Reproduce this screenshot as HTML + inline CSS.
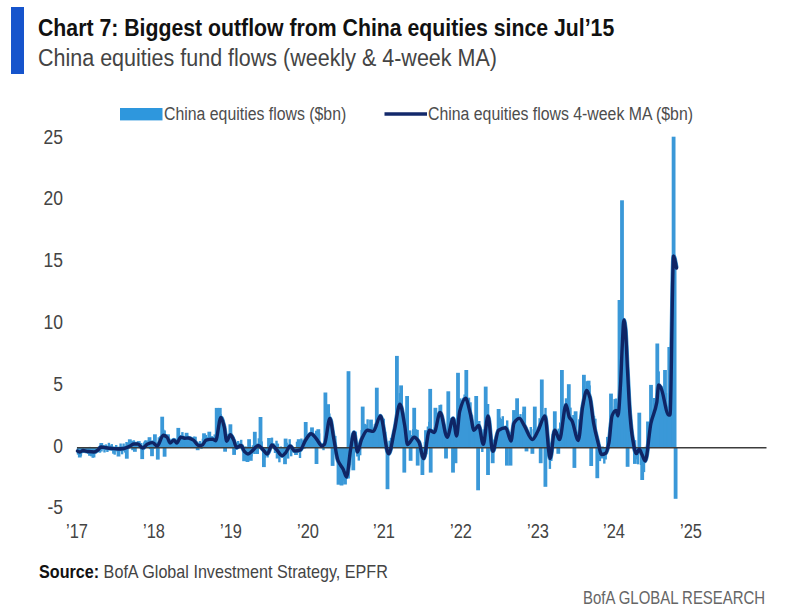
<!DOCTYPE html>
<html><head><meta charset="utf-8">
<style>
html,body{margin:0;padding:0;background:#fff;}
body{width:800px;height:615px;position:relative;overflow:hidden;font-family:"Liberation Sans",sans-serif;}
.t{position:absolute;white-space:nowrap;transform-origin:0 0;line-height:1;}
#bar{position:absolute;left:11px;top:6.6px;width:13.2px;height:67.4px;background:#1654cc;}
#title{left:38px;top:16.8px;font-size:23px;font-weight:bold;color:#111;transform:scaleX(0.924);}
#sub{left:38px;top:47px;font-size:23px;color:#444;transform:scaleX(0.935);}
.lg{font-size:18px;color:#4d4d4d;transform:scaleX(0.88);}
.yl{font-size:20px;color:#444;text-align:right;width:40px;transform:scaleX(0.875);transform-origin:100% 0;}
.xl{font-size:20px;color:#444;transform:scaleX(0.82);}
</style></head><body>
<div id="bar"></div>
<div class="t" id="title">Chart 7: Biggest outflow from China equities since Jul’15</div>
<div class="t" id="sub">China equities fund flows (weekly &amp; 4-week MA)</div>
<svg width="800" height="615" style="position:absolute;left:0;top:0">
<rect x="120" y="108" width="42.5" height="12.4" fill="#2e97dd"/>
<line x1="384.5" y1="114" x2="427" y2="114" stroke="#13296b" stroke-width="3.5"/>
<g id="bars" fill="#3a98d8"><path d="M77.5,447.5 L77.50,451.00 C78.33,451.33 79.17,452.00 80.00,452.00 C81.00,452.00 82.00,450.50 83.00,450.50 C84.67,450.50 86.33,451.30 88.00,451.50 C90.00,451.74 92.00,452.00 94.00,452.00 C95.33,452.00 96.67,450.90 98.00,450.00 C99.00,449.32 100.00,447.00 101.00,447.00 C102.67,447.00 104.33,447.57 106.00,447.80 C108.00,448.07 110.00,448.31 112.00,448.50 C114.00,448.69 116.00,449.00 118.00,449.00 C120.00,449.00 122.00,448.78 124.00,448.50 C126.00,448.22 128.00,446.93 130.00,446.00 C131.30,445.40 132.60,444.00 133.90,444.00 C135.20,444.00 136.50,444.00 137.80,444.00 C139.43,444.00 141.07,448.00 142.70,448.00 C144.33,448.00 145.97,444.70 147.60,444.00 C149.20,443.31 150.80,442.60 152.40,442.60 C154.03,442.60 155.67,446.00 157.30,446.00 C159.27,446.00 161.23,435.20 163.20,435.20 C164.50,435.20 165.80,436.11 167.10,437.20 C168.07,438.01 169.03,443.00 170.00,443.00 C171.30,443.00 172.60,440.10 173.90,440.10 C174.87,440.10 175.83,443.00 176.80,443.00 C178.10,443.00 179.40,437.20 180.70,437.20 C182.00,437.20 183.30,438.20 184.60,438.20 C185.80,438.20 187.00,438.00 188.20,438.00 C189.93,438.00 191.67,439.10 193.40,440.10 C195.17,441.12 196.93,445.40 198.70,445.40 C199.77,445.40 200.83,445.40 201.90,445.40 C203.30,445.40 204.70,440.51 206.10,440.10 C208.23,439.47 210.37,439.10 212.50,439.10 C213.53,439.10 214.57,440.70 215.60,440.70 C217.37,440.70 219.13,417.40 220.90,417.40 C221.97,417.40 223.03,422.34 224.10,426.40 C224.97,429.70 225.83,441.20 226.70,441.20 C227.93,441.20 229.17,434.80 230.40,434.80 C231.47,434.80 232.53,438.01 233.60,440.10 C234.63,442.12 235.67,447.50 236.70,447.50 C238.13,447.50 239.57,445.40 241.00,445.40 C242.17,445.40 243.33,450.32 244.50,451.50 C245.67,452.68 246.83,454.00 248.00,454.00 C249.50,454.00 251.00,451.84 252.50,450.60 C254.40,449.04 256.30,445.40 258.20,445.40 C259.73,445.40 261.27,447.96 262.80,449.40 C264.30,450.81 265.80,454.00 267.30,454.00 C268.83,454.00 270.37,444.90 271.90,444.90 C273.40,444.90 274.90,447.83 276.40,449.40 C278.30,451.39 280.20,455.70 282.10,455.70 C283.27,455.70 284.43,454.03 285.60,452.80 C287.10,451.21 288.60,446.00 290.10,446.00 C291.63,446.00 293.17,451.00 294.70,451.00 C296.60,451.00 298.50,450.53 300.40,449.80 C302.17,449.12 303.93,442.41 305.70,439.90 C307.50,437.34 309.30,433.70 311.10,433.70 C312.90,433.70 314.70,437.01 316.50,439.00 C318.33,441.03 320.17,446.00 322.00,446.00 C322.83,446.00 323.67,445.26 324.50,444.40 C326.30,442.54 328.10,418.50 329.90,418.50 C331.10,418.50 332.30,430.98 333.50,437.20 C335.00,444.98 336.50,456.64 338.00,460.50 C339.77,465.04 341.53,465.87 343.30,469.40 C344.37,471.53 345.43,477.00 346.50,477.00 C347.83,477.00 349.17,457.63 350.50,450.00 C351.67,443.32 352.83,432.50 354.00,432.50 C355.17,432.50 356.33,452.00 357.50,452.00 C358.83,452.00 360.17,442.47 361.50,439.60 C363.47,435.37 365.43,430.20 367.40,430.20 C369.37,430.20 371.33,431.40 373.30,431.40 C375.67,431.40 378.03,416.00 380.40,416.00 C383.13,416.00 385.87,453.80 388.60,453.80 C390.57,453.80 392.53,438.81 394.50,430.20 C396.30,422.32 398.10,404.20 399.90,404.20 C401.50,404.20 403.10,416.75 404.70,425.50 C405.63,430.60 406.57,444.50 407.50,444.50 C409.73,444.50 411.97,437.30 414.20,437.30 C415.77,437.30 417.33,439.56 418.90,442.00 C420.47,444.44 422.03,458.50 423.60,458.50 C425.57,458.50 427.53,430.20 429.50,430.20 C431.07,430.20 432.63,432.50 434.20,432.50 C436.17,432.50 438.13,412.50 440.10,412.50 C442.47,412.50 444.83,437.30 447.20,437.30 C449.17,437.30 451.13,418.40 453.10,418.40 C454.27,418.40 455.43,436.00 456.60,436.00 C457.63,436.00 458.67,415.09 459.70,411.30 C461.67,404.09 463.63,398.30 465.60,398.30 C467.17,398.30 468.73,407.67 470.30,413.70 C471.50,418.32 472.70,430.20 473.90,430.20 C475.47,430.20 477.03,425.50 478.60,425.50 C480.17,425.50 481.73,444.30 483.30,444.30 C484.87,444.30 486.43,416.00 488.00,416.00 C489.57,416.00 491.13,451.40 492.70,451.40 C494.67,451.40 496.63,431.45 498.60,430.20 C500.97,428.70 503.33,427.80 505.70,427.80 C507.47,427.80 509.23,441.00 511.00,441.00 C512.00,441.00 513.00,424.74 514.00,423.10 C515.80,420.16 517.60,418.40 519.40,418.40 C521.00,418.40 522.60,422.97 524.20,425.50 C526.93,429.82 529.67,439.60 532.40,439.60 C534.37,439.60 536.33,433.79 538.30,430.20 C540.50,426.18 542.70,416.00 544.90,416.00 C546.63,416.00 548.37,458.50 550.10,458.50 C551.67,458.50 553.23,430.20 554.80,430.20 C556.37,430.20 557.93,439.60 559.50,439.60 C561.70,439.60 563.90,404.70 566.10,404.70 C567.17,404.70 568.23,415.11 569.30,417.20 C570.20,418.96 571.10,419.20 572.00,420.80 C574.10,424.53 576.20,440.50 578.30,440.50 C579.77,440.50 581.23,414.11 582.70,406.50 C584.07,399.41 585.43,390.40 586.80,390.40 C587.83,390.40 588.87,394.05 589.90,397.60 C591.10,401.73 592.30,416.08 593.50,422.60 C594.93,430.39 596.37,436.17 597.80,441.60 C599.10,446.53 600.40,454.60 601.70,454.60 C603.00,454.60 604.30,454.10 605.60,453.30 C606.70,452.62 607.80,448.04 608.90,443.00 C609.97,438.11 611.03,418.12 612.10,415.60 C613.40,412.53 614.70,410.40 616.00,410.40 C616.67,410.40 617.33,416.00 618.00,416.00 C618.83,416.00 619.67,398.47 620.50,385.00 C621.10,375.30 621.70,356.38 622.30,345.00 C622.80,335.52 623.30,320.00 623.80,320.00 C624.30,320.00 624.80,323.97 625.30,328.00 C626.03,333.90 626.77,356.40 627.50,370.00 C628.33,385.45 629.17,404.85 630.00,415.00 C630.83,425.15 631.67,433.14 632.50,438.00 C633.77,445.39 635.03,453.60 636.30,453.60 C637.30,453.60 638.30,449.30 639.30,449.30 C640.27,449.30 641.23,453.15 642.20,455.10 C643.17,457.05 644.13,461.00 645.10,461.00 C647.07,461.00 649.03,431.88 651.00,422.90 C652.93,414.07 654.87,413.30 656.80,402.40 C657.40,399.02 658.00,385.00 658.60,385.00 C659.40,385.00 660.20,386.63 661.00,388.00 C663.53,392.33 666.07,415.00 668.60,415.00 C669.07,415.00 669.53,415.00 670.00,415.00 C671.20,415.00 672.40,256.00 673.60,256.00 C674.57,256.00 675.53,264.00 676.50,268.00 L676.5,447.5 Z"/><rect x="76.8" y="447.5" width="2.4" height="7.1"/><rect x="78.3" y="447.5" width="2.4" height="9.1"/><rect x="79.7" y="447.5" width="2.4" height="8.4"/><rect x="81.2" y="447.5" width="2.4" height="1.9"/><rect x="82.7" y="447.5" width="2.4" height="4.3"/><rect x="84.1" y="447.5" width="2.4" height="5.1"/><rect x="85.6" y="447.4" width="2.4" height="0.1"/><rect x="87.1" y="447.5" width="2.4" height="6.1"/><rect x="88.6" y="446.9" width="2.4" height="0.6"/><rect x="90.0" y="447.5" width="2.4" height="8.8"/><rect x="91.5" y="447.5" width="2.4" height="10.3"/><rect x="93.0" y="447.5" width="2.4" height="10.0"/><rect x="94.4" y="447.5" width="2.4" height="6.0"/><rect x="95.9" y="447.1" width="2.4" height="0.4"/><rect x="97.4" y="446.9" width="2.4" height="0.6"/><rect x="98.8" y="447.5" width="2.4" height="5.2"/><rect x="100.3" y="447.5" width="2.4" height="4.0"/><rect x="101.8" y="447.5" width="2.4" height="1.3"/><rect x="103.3" y="447.5" width="2.4" height="5.0"/><rect x="104.7" y="444.4" width="2.4" height="3.1"/><rect x="106.2" y="447.5" width="2.4" height="4.5"/><rect x="107.7" y="442.8" width="2.4" height="4.7"/><rect x="109.1" y="445.3" width="2.4" height="2.2"/><rect x="110.6" y="444.1" width="2.4" height="3.4"/><rect x="112.1" y="447.5" width="2.4" height="6.2"/><rect x="113.5" y="447.5" width="2.4" height="7.2"/><rect x="115.0" y="445.0" width="2.4" height="2.5"/><rect x="116.5" y="447.5" width="2.4" height="3.8"/><rect x="118.0" y="447.5" width="2.4" height="0.2"/><rect x="119.4" y="443.5" width="2.4" height="4.0"/><rect x="120.9" y="447.5" width="2.4" height="6.8"/><rect x="122.4" y="443.5" width="2.4" height="4.0"/><rect x="123.8" y="447.5" width="2.4" height="5.1"/><rect x="125.3" y="442.0" width="2.4" height="5.5"/><rect x="126.8" y="442.7" width="2.4" height="4.8"/><rect x="128.2" y="444.8" width="2.4" height="2.7"/><rect x="129.7" y="440.7" width="2.4" height="6.8"/><rect x="131.2" y="447.5" width="2.4" height="2.7"/><rect x="132.7" y="440.3" width="2.4" height="7.2"/><rect x="134.1" y="444.9" width="2.4" height="2.6"/><rect x="135.6" y="446.5" width="2.4" height="1.0"/><rect x="137.1" y="442.9" width="2.4" height="4.6"/><rect x="138.5" y="447.5" width="2.4" height="0.2"/><rect x="140.0" y="443.0" width="2.4" height="4.5"/><rect x="141.5" y="447.5" width="2.4" height="2.2"/><rect x="142.9" y="442.4" width="2.4" height="5.1"/><rect x="144.4" y="440.2" width="2.4" height="7.3"/><rect x="145.9" y="447.5" width="2.4" height="0.1"/><rect x="147.4" y="440.1" width="2.4" height="7.4"/><rect x="148.8" y="447.5" width="2.4" height="1.7"/><rect x="150.3" y="445.4" width="2.4" height="2.1"/><rect x="151.8" y="445.9" width="2.4" height="1.6"/><rect x="153.2" y="447.5" width="2.4" height="1.1"/><rect x="154.7" y="445.4" width="2.4" height="2.1"/><rect x="156.2" y="442.2" width="2.4" height="5.3"/><rect x="157.6" y="437.3" width="2.4" height="10.2"/><rect x="159.1" y="436.2" width="2.4" height="11.3"/><rect x="160.6" y="442.7" width="2.4" height="4.8"/><rect x="162.1" y="429.5" width="2.4" height="18.0"/><rect x="163.5" y="430.4" width="2.4" height="17.1"/><rect x="165.0" y="440.5" width="2.4" height="7.0"/><rect x="166.5" y="436.4" width="2.4" height="11.1"/><rect x="167.9" y="442.8" width="2.4" height="4.7"/><rect x="169.4" y="445.3" width="2.4" height="2.2"/><rect x="170.9" y="445.0" width="2.4" height="2.5"/><rect x="172.3" y="440.5" width="2.4" height="7.0"/><rect x="173.8" y="443.1" width="2.4" height="4.4"/><rect x="175.3" y="441.7" width="2.4" height="5.8"/><rect x="176.8" y="446.0" width="2.4" height="1.5"/><rect x="178.2" y="442.1" width="2.4" height="5.4"/><rect x="179.7" y="440.9" width="2.4" height="6.6"/><rect x="181.2" y="432.1" width="2.4" height="15.4"/><rect x="182.6" y="442.1" width="2.4" height="5.4"/><rect x="184.1" y="439.9" width="2.4" height="7.6"/><rect x="185.6" y="441.6" width="2.4" height="5.9"/><rect x="187.0" y="443.5" width="2.4" height="4.0"/><rect x="188.5" y="437.7" width="2.4" height="9.8"/><rect x="190.0" y="443.6" width="2.4" height="3.9"/><rect x="191.5" y="444.2" width="2.4" height="3.3"/><rect x="192.9" y="436.5" width="2.4" height="11.0"/><rect x="194.4" y="436.7" width="2.4" height="10.8"/><rect x="195.9" y="446.8" width="2.4" height="0.7"/><rect x="197.3" y="442.8" width="2.4" height="4.7"/><rect x="198.8" y="441.0" width="2.4" height="6.5"/><rect x="200.3" y="447.5" width="2.4" height="1.3"/><rect x="201.7" y="438.7" width="2.4" height="8.8"/><rect x="203.2" y="436.7" width="2.4" height="10.8"/><rect x="204.7" y="434.9" width="2.4" height="12.6"/><rect x="206.2" y="437.0" width="2.4" height="10.5"/><rect x="207.6" y="443.3" width="2.4" height="4.2"/><rect x="209.1" y="440.4" width="2.4" height="7.1"/><rect x="210.6" y="436.2" width="2.4" height="11.3"/><rect x="212.0" y="445.4" width="2.4" height="2.1"/><rect x="213.5" y="434.4" width="2.4" height="13.1"/><rect x="215.0" y="444.0" width="2.4" height="3.5"/><rect x="216.4" y="434.5" width="2.4" height="13.0"/><rect x="217.9" y="427.9" width="2.4" height="19.6"/><rect x="219.4" y="414.0" width="2.4" height="33.5"/><rect x="220.9" y="426.2" width="2.4" height="21.3"/><rect x="222.3" y="419.9" width="2.4" height="27.6"/><rect x="223.8" y="429.8" width="2.4" height="17.7"/><rect x="225.3" y="434.2" width="2.4" height="13.3"/><rect x="226.7" y="444.3" width="2.4" height="3.2"/><rect x="228.2" y="434.0" width="2.4" height="13.5"/><rect x="229.7" y="432.1" width="2.4" height="15.4"/><rect x="231.1" y="443.9" width="2.4" height="3.6"/><rect x="232.6" y="436.8" width="2.4" height="10.7"/><rect x="234.1" y="447.5" width="2.4" height="1.7"/><rect x="235.6" y="447.5" width="2.4" height="2.1"/><rect x="237.0" y="441.0" width="2.4" height="6.5"/><rect x="238.5" y="443.7" width="2.4" height="3.8"/><rect x="240.0" y="439.8" width="2.4" height="7.7"/><rect x="241.4" y="444.7" width="2.4" height="2.8"/><rect x="242.9" y="447.5" width="2.4" height="5.5"/><rect x="244.4" y="446.4" width="2.4" height="1.1"/><rect x="245.8" y="447.5" width="2.4" height="1.5"/><rect x="247.3" y="447.5" width="2.4" height="2.2"/><rect x="248.8" y="447.5" width="2.4" height="10.5"/><rect x="250.3" y="447.5" width="2.4" height="8.9"/><rect x="251.7" y="445.3" width="2.4" height="2.2"/><rect x="253.2" y="447.5" width="2.4" height="6.5"/><rect x="254.7" y="443.9" width="2.4" height="3.6"/><rect x="256.1" y="447.5" width="2.4" height="4.6"/><rect x="257.6" y="438.3" width="2.4" height="9.2"/><rect x="259.1" y="440.7" width="2.4" height="6.8"/><rect x="260.5" y="441.4" width="2.4" height="6.1"/><rect x="262.0" y="447.5" width="2.4" height="9.6"/><rect x="263.5" y="447.5" width="2.4" height="10.5"/><rect x="265.0" y="447.5" width="2.4" height="4.7"/><rect x="266.4" y="447.5" width="2.4" height="10.0"/><rect x="267.9" y="441.9" width="2.4" height="5.6"/><rect x="269.4" y="441.8" width="2.4" height="5.7"/><rect x="270.8" y="437.6" width="2.4" height="9.9"/><rect x="272.3" y="443.3" width="2.4" height="4.2"/><rect x="273.8" y="447.5" width="2.4" height="5.5"/><rect x="275.3" y="440.7" width="2.4" height="6.8"/><rect x="276.7" y="443.6" width="2.4" height="3.9"/><rect x="278.2" y="447.5" width="2.4" height="14.8"/><rect x="279.7" y="446.5" width="2.4" height="1.0"/><rect x="281.1" y="447.5" width="2.4" height="0.9"/><rect x="282.6" y="447.5" width="2.4" height="0.1"/><rect x="284.1" y="446.2" width="2.4" height="1.3"/><rect x="285.5" y="442.7" width="2.4" height="4.8"/><rect x="287.0" y="447.5" width="2.4" height="11.1"/><rect x="288.5" y="439.2" width="2.4" height="8.3"/><rect x="290.0" y="447.5" width="2.4" height="8.8"/><rect x="291.4" y="447.5" width="2.4" height="4.7"/><rect x="292.9" y="447.5" width="2.4" height="5.5"/><rect x="294.4" y="447.5" width="2.4" height="0.6"/><rect x="295.8" y="441.7" width="2.4" height="5.8"/><rect x="297.3" y="446.3" width="2.4" height="1.2"/><rect x="298.8" y="447.5" width="2.4" height="10.5"/><rect x="300.2" y="438.5" width="2.4" height="9.0"/><rect x="301.7" y="440.4" width="2.4" height="7.1"/><rect x="303.2" y="447.5" width="2.4" height="1.2"/><rect x="304.7" y="429.8" width="2.4" height="17.7"/><rect x="306.1" y="442.1" width="2.4" height="5.4"/><rect x="307.6" y="443.5" width="2.4" height="4.0"/><rect x="309.1" y="439.1" width="2.4" height="8.4"/><rect x="310.5" y="442.8" width="2.4" height="4.7"/><rect x="312.0" y="443.2" width="2.4" height="4.3"/><rect x="313.5" y="438.5" width="2.4" height="9.0"/><rect x="314.9" y="430.7" width="2.4" height="16.8"/><rect x="316.4" y="437.9" width="2.4" height="9.6"/><rect x="317.9" y="433.4" width="2.4" height="14.1"/><rect x="319.4" y="447.4" width="2.4" height="0.1"/><rect x="320.8" y="444.0" width="2.4" height="3.5"/><rect x="322.3" y="447.5" width="2.4" height="2.7"/><rect x="323.8" y="435.7" width="2.4" height="11.8"/><rect x="325.2" y="444.2" width="2.4" height="3.3"/><rect x="326.7" y="424.2" width="2.4" height="23.3"/><rect x="328.2" y="413.5" width="2.4" height="34.0"/><rect x="329.6" y="427.3" width="2.4" height="20.2"/><rect x="331.1" y="441.8" width="2.4" height="5.7"/><rect x="332.6" y="435.2" width="2.4" height="12.3"/><rect x="334.1" y="435.9" width="2.4" height="11.6"/><rect x="335.5" y="447.5" width="2.4" height="2.6"/><rect x="337.0" y="447.5" width="2.4" height="10.0"/><rect x="338.5" y="447.5" width="2.4" height="24.5"/><rect x="339.9" y="447.5" width="2.4" height="8.6"/><rect x="341.4" y="447.5" width="2.4" height="27.5"/><rect x="342.9" y="447.5" width="2.4" height="33.2"/><rect x="344.3" y="447.5" width="2.4" height="31.5"/><rect x="345.8" y="447.5" width="2.4" height="29.0"/><rect x="347.3" y="447.5" width="2.4" height="23.4"/><rect x="348.8" y="447.5" width="2.4" height="17.5"/><rect x="350.2" y="447.5" width="2.4" height="7.1"/><rect x="351.7" y="445.7" width="2.4" height="1.8"/><rect x="353.2" y="441.0" width="2.4" height="6.5"/><rect x="354.6" y="431.6" width="2.4" height="15.9"/><rect x="356.1" y="447.5" width="2.4" height="9.0"/><rect x="357.6" y="447.5" width="2.4" height="13.1"/><rect x="359.0" y="447.5" width="2.4" height="7.8"/><rect x="360.5" y="430.1" width="2.4" height="17.4"/><rect x="362.0" y="428.8" width="2.4" height="18.7"/><rect x="363.5" y="423.8" width="2.4" height="23.7"/><rect x="364.9" y="424.6" width="2.4" height="22.9"/><rect x="366.4" y="419.3" width="2.4" height="28.2"/><rect x="367.9" y="438.8" width="2.4" height="8.7"/><rect x="369.3" y="433.9" width="2.4" height="13.6"/><rect x="370.8" y="427.7" width="2.4" height="19.8"/><rect x="372.3" y="437.6" width="2.4" height="9.9"/><rect x="373.7" y="424.1" width="2.4" height="23.4"/><rect x="375.2" y="412.5" width="2.4" height="35.0"/><rect x="376.7" y="428.4" width="2.4" height="19.1"/><rect x="378.2" y="425.3" width="2.4" height="22.2"/><rect x="379.6" y="423.1" width="2.4" height="24.4"/><rect x="381.1" y="418.0" width="2.4" height="29.5"/><rect x="382.6" y="418.7" width="2.4" height="28.8"/><rect x="384.0" y="431.8" width="2.4" height="15.7"/><rect x="385.5" y="447.5" width="2.4" height="4.8"/><rect x="387.0" y="447.5" width="2.4" height="4.7"/><rect x="388.4" y="440.7" width="2.4" height="6.8"/><rect x="389.9" y="437.9" width="2.4" height="9.6"/><rect x="391.4" y="438.8" width="2.4" height="8.7"/><rect x="392.9" y="435.9" width="2.4" height="11.6"/><rect x="394.3" y="427.9" width="2.4" height="19.6"/><rect x="395.8" y="425.4" width="2.4" height="22.1"/><rect x="397.3" y="401.2" width="2.4" height="46.3"/><rect x="398.7" y="393.1" width="2.4" height="54.4"/><rect x="400.2" y="399.9" width="2.4" height="47.6"/><rect x="401.7" y="425.5" width="2.4" height="22.0"/><rect x="403.1" y="436.8" width="2.4" height="10.7"/><rect x="404.6" y="422.0" width="2.4" height="25.5"/><rect x="406.1" y="440.3" width="2.4" height="7.2"/><rect x="407.6" y="430.9" width="2.4" height="16.6"/><rect x="409.0" y="430.4" width="2.4" height="17.1"/><rect x="410.5" y="435.1" width="2.4" height="12.4"/><rect x="412.0" y="429.2" width="2.4" height="18.3"/><rect x="413.4" y="426.1" width="2.4" height="21.4"/><rect x="414.9" y="429.3" width="2.4" height="18.2"/><rect x="416.4" y="429.9" width="2.4" height="17.6"/><rect x="417.8" y="447.5" width="2.4" height="1.2"/><rect x="419.3" y="447.5" width="2.4" height="4.9"/><rect x="420.8" y="447.5" width="2.4" height="1.1"/><rect x="422.3" y="447.5" width="2.4" height="0.8"/><rect x="423.7" y="441.9" width="2.4" height="5.6"/><rect x="425.2" y="447.5" width="2.4" height="6.7"/><rect x="426.7" y="426.5" width="2.4" height="21.0"/><rect x="428.1" y="421.8" width="2.4" height="25.7"/><rect x="429.6" y="441.4" width="2.4" height="6.1"/><rect x="431.1" y="442.7" width="2.4" height="4.8"/><rect x="432.5" y="435.8" width="2.4" height="11.7"/><rect x="434.0" y="440.2" width="2.4" height="7.3"/><rect x="435.5" y="412.9" width="2.4" height="34.6"/><rect x="437.0" y="428.2" width="2.4" height="19.3"/><rect x="438.4" y="405.1" width="2.4" height="42.4"/><rect x="439.9" y="404.6" width="2.4" height="42.9"/><rect x="441.4" y="431.5" width="2.4" height="16.0"/><rect x="442.8" y="431.2" width="2.4" height="16.3"/><rect x="444.3" y="442.6" width="2.4" height="4.9"/><rect x="445.8" y="446.3" width="2.4" height="1.2"/><rect x="447.2" y="436.5" width="2.4" height="11.0"/><rect x="448.7" y="418.0" width="2.4" height="29.5"/><rect x="450.2" y="434.6" width="2.4" height="12.9"/><rect x="451.7" y="428.5" width="2.4" height="19.0"/><rect x="453.1" y="433.4" width="2.4" height="14.1"/><rect x="454.6" y="444.2" width="2.4" height="3.3"/><rect x="456.1" y="417.9" width="2.4" height="29.6"/><rect x="457.5" y="420.7" width="2.4" height="26.8"/><rect x="459.0" y="398.4" width="2.4" height="49.1"/><rect x="460.5" y="415.7" width="2.4" height="31.8"/><rect x="461.9" y="397.8" width="2.4" height="49.7"/><rect x="463.4" y="394.5" width="2.4" height="53.0"/><rect x="464.9" y="395.0" width="2.4" height="52.5"/><rect x="466.4" y="417.4" width="2.4" height="30.1"/><rect x="467.8" y="397.7" width="2.4" height="49.8"/><rect x="469.3" y="402.3" width="2.4" height="45.2"/><rect x="470.8" y="415.1" width="2.4" height="32.4"/><rect x="472.2" y="437.1" width="2.4" height="10.4"/><rect x="473.7" y="430.0" width="2.4" height="17.5"/><rect x="475.2" y="436.5" width="2.4" height="11.0"/><rect x="476.6" y="431.1" width="2.4" height="16.4"/><rect x="478.1" y="421.0" width="2.4" height="26.5"/><rect x="479.6" y="433.7" width="2.4" height="13.8"/><rect x="481.1" y="447.5" width="2.4" height="4.5"/><rect x="482.5" y="429.3" width="2.4" height="18.2"/><rect x="484.0" y="445.3" width="2.4" height="2.2"/><rect x="485.5" y="432.0" width="2.4" height="15.5"/><rect x="486.9" y="404.0" width="2.4" height="43.5"/><rect x="488.4" y="435.9" width="2.4" height="11.6"/><rect x="489.9" y="445.9" width="2.4" height="1.6"/><rect x="491.3" y="446.0" width="2.4" height="1.5"/><rect x="492.8" y="439.7" width="2.4" height="7.8"/><rect x="494.3" y="447.5" width="2.4" height="0.4"/><rect x="495.8" y="445.4" width="2.4" height="2.1"/><rect x="497.2" y="422.9" width="2.4" height="24.6"/><rect x="498.7" y="417.5" width="2.4" height="30.0"/><rect x="500.2" y="418.9" width="2.4" height="28.6"/><rect x="501.6" y="416.2" width="2.4" height="31.3"/><rect x="503.1" y="439.3" width="2.4" height="8.2"/><rect x="504.6" y="439.1" width="2.4" height="8.4"/><rect x="506.0" y="420.4" width="2.4" height="27.1"/><rect x="507.5" y="442.3" width="2.4" height="5.2"/><rect x="509.0" y="447.5" width="2.4" height="4.0"/><rect x="510.5" y="446.1" width="2.4" height="1.4"/><rect x="511.9" y="421.3" width="2.4" height="26.2"/><rect x="513.4" y="435.4" width="2.4" height="12.1"/><rect x="514.9" y="431.8" width="2.4" height="15.7"/><rect x="516.3" y="429.7" width="2.4" height="17.8"/><rect x="517.8" y="424.1" width="2.4" height="23.4"/><rect x="519.3" y="414.1" width="2.4" height="33.4"/><rect x="520.7" y="431.3" width="2.4" height="16.2"/><rect x="522.2" y="412.0" width="2.4" height="35.5"/><rect x="523.7" y="435.4" width="2.4" height="12.1"/><rect x="525.2" y="434.9" width="2.4" height="12.6"/><rect x="526.6" y="439.3" width="2.4" height="8.2"/><rect x="528.1" y="440.6" width="2.4" height="6.9"/><rect x="529.6" y="427.0" width="2.4" height="20.5"/><rect x="531.0" y="447.5" width="2.4" height="3.1"/><rect x="532.5" y="429.2" width="2.4" height="18.3"/><rect x="534.0" y="443.2" width="2.4" height="4.3"/><rect x="535.4" y="436.1" width="2.4" height="11.4"/><rect x="536.9" y="443.3" width="2.4" height="4.2"/><rect x="538.4" y="418.2" width="2.4" height="29.3"/><rect x="539.9" y="436.4" width="2.4" height="11.1"/><rect x="541.3" y="427.9" width="2.4" height="19.6"/><rect x="542.8" y="426.2" width="2.4" height="21.3"/><rect x="544.3" y="407.9" width="2.4" height="39.6"/><rect x="545.7" y="444.7" width="2.4" height="2.8"/><rect x="547.2" y="442.3" width="2.4" height="5.2"/><rect x="548.7" y="447.5" width="2.4" height="21.4"/><rect x="550.1" y="447.5" width="2.4" height="13.5"/><rect x="551.6" y="434.0" width="2.4" height="13.5"/><rect x="553.1" y="421.5" width="2.4" height="26.0"/><rect x="554.6" y="444.9" width="2.4" height="2.6"/><rect x="556.0" y="439.3" width="2.4" height="8.2"/><rect x="557.5" y="428.6" width="2.4" height="18.9"/><rect x="559.0" y="422.5" width="2.4" height="25.0"/><rect x="560.4" y="417.1" width="2.4" height="30.4"/><rect x="561.9" y="411.1" width="2.4" height="36.4"/><rect x="563.4" y="410.0" width="2.4" height="37.5"/><rect x="564.8" y="398.3" width="2.4" height="49.2"/><rect x="566.3" y="421.5" width="2.4" height="26.0"/><rect x="567.8" y="421.0" width="2.4" height="26.5"/><rect x="569.3" y="407.6" width="2.4" height="39.9"/><rect x="570.7" y="425.4" width="2.4" height="22.1"/><rect x="572.2" y="415.0" width="2.4" height="32.5"/><rect x="573.7" y="438.5" width="2.4" height="9.0"/><rect x="575.1" y="445.2" width="2.4" height="2.3"/><rect x="576.6" y="446.6" width="2.4" height="0.9"/><rect x="578.1" y="419.3" width="2.4" height="28.2"/><rect x="579.5" y="434.8" width="2.4" height="12.7"/><rect x="581.0" y="417.1" width="2.4" height="30.4"/><rect x="582.5" y="388.9" width="2.4" height="58.6"/><rect x="584.0" y="404.6" width="2.4" height="42.9"/><rect x="585.4" y="381.2" width="2.4" height="66.3"/><rect x="586.9" y="402.5" width="2.4" height="45.0"/><rect x="588.4" y="385.4" width="2.4" height="62.1"/><rect x="589.8" y="412.1" width="2.4" height="35.4"/><rect x="591.3" y="423.8" width="2.4" height="23.7"/><rect x="592.8" y="436.2" width="2.4" height="11.3"/><rect x="594.2" y="418.7" width="2.4" height="28.8"/><rect x="595.7" y="447.5" width="2.4" height="0.1"/><rect x="597.2" y="447.5" width="2.4" height="9.8"/><rect x="598.7" y="447.5" width="2.4" height="13.6"/><rect x="600.1" y="446.7" width="2.4" height="0.8"/><rect x="601.6" y="446.6" width="2.4" height="0.9"/><rect x="603.1" y="447.5" width="2.4" height="16.1"/><rect x="604.5" y="447.5" width="2.4" height="12.0"/><rect x="606.0" y="436.9" width="2.4" height="10.6"/><rect x="607.5" y="447.5" width="2.4" height="1.6"/><rect x="608.9" y="425.9" width="2.4" height="21.6"/><rect x="610.4" y="425.1" width="2.4" height="22.4"/><rect x="611.9" y="417.7" width="2.4" height="29.8"/><rect x="613.4" y="399.1" width="2.4" height="48.4"/><rect x="614.8" y="398.5" width="2.4" height="49.0"/><rect x="616.3" y="428.1" width="2.4" height="19.4"/><rect x="617.8" y="398.1" width="2.4" height="49.4"/><rect x="619.2" y="398.0" width="2.4" height="49.5"/><rect x="620.7" y="365.3" width="2.4" height="82.2"/><rect x="622.2" y="335.7" width="2.4" height="111.8"/><rect x="623.6" y="331.3" width="2.4" height="116.2"/><rect x="625.1" y="354.7" width="2.4" height="92.8"/><rect x="626.6" y="388.7" width="2.4" height="58.8"/><rect x="628.1" y="415.2" width="2.4" height="32.3"/><rect x="629.5" y="413.3" width="2.4" height="34.2"/><rect x="631.0" y="447.5" width="2.4" height="0.3"/><rect x="632.5" y="445.9" width="2.4" height="1.6"/><rect x="633.9" y="440.2" width="2.4" height="7.3"/><rect x="635.4" y="447.5" width="2.4" height="11.8"/><rect x="636.9" y="447.5" width="2.4" height="16.8"/><rect x="638.3" y="440.8" width="2.4" height="6.7"/><rect x="639.8" y="447.5" width="2.4" height="17.5"/><rect x="641.3" y="447.5" width="2.4" height="10.8"/><rect x="642.8" y="447.5" width="2.4" height="24.6"/><rect x="644.2" y="446.8" width="2.4" height="0.7"/><rect x="645.7" y="447.5" width="2.4" height="10.1"/><rect x="647.2" y="426.2" width="2.4" height="21.3"/><rect x="648.6" y="423.3" width="2.4" height="24.2"/><rect x="650.1" y="429.7" width="2.4" height="17.8"/><rect x="651.6" y="415.8" width="2.4" height="31.7"/><rect x="653.0" y="398.0" width="2.4" height="49.5"/><rect x="654.5" y="419.8" width="2.4" height="27.7"/><rect x="656.0" y="405.5" width="2.4" height="42.0"/><rect x="657.5" y="371.4" width="2.4" height="76.1"/><rect x="658.9" y="395.6" width="2.4" height="51.9"/><rect x="660.4" y="399.3" width="2.4" height="48.2"/><rect x="661.9" y="408.8" width="2.4" height="38.7"/><rect x="663.3" y="388.0" width="2.4" height="59.5"/><rect x="664.8" y="393.1" width="2.4" height="54.4"/><rect x="666.3" y="421.9" width="2.4" height="25.6"/><rect x="667.7" y="422.9" width="2.4" height="24.6"/><rect x="669.2" y="409.3" width="2.4" height="38.2"/><rect x="670.7" y="325.7" width="2.4" height="121.8"/><rect x="672.2" y="274.0" width="2.4" height="173.5"/><rect x="673.6" y="258.5" width="2.4" height="189.0"/><rect x="99.4" y="443.0" width="3.8" height="4.5"/><rect x="127.9" y="439.3" width="3.8" height="8.2"/><rect x="130.1" y="440.8" width="3.8" height="6.8"/><rect x="136.9" y="441.1" width="3.8" height="6.4"/><rect x="143.7" y="441.1" width="3.8" height="6.4"/><rect x="147.6" y="437.2" width="3.8" height="10.3"/><rect x="153.0" y="434.3" width="3.8" height="13.2"/><rect x="160.3" y="416.7" width="3.8" height="30.8"/><rect x="166.1" y="434.3" width="3.8" height="13.2"/><rect x="176.4" y="427.9" width="3.8" height="19.6"/><rect x="184.7" y="432.8" width="3.8" height="14.7"/><rect x="202.1" y="433.3" width="3.8" height="14.2"/><rect x="207.4" y="431.7" width="3.8" height="15.8"/><rect x="214.8" y="407.9" width="3.8" height="39.6"/><rect x="217.9" y="407.9" width="3.8" height="39.6"/><rect x="228.5" y="424.3" width="3.8" height="23.2"/><rect x="238.1" y="443.3" width="3.8" height="4.2"/><rect x="247.2" y="439.2" width="3.8" height="8.3"/><rect x="252.9" y="431.8" width="3.8" height="15.7"/><rect x="258.6" y="417.0" width="3.8" height="30.5"/><rect x="267.1" y="438.0" width="3.8" height="9.5"/><rect x="283.7" y="438.6" width="3.8" height="8.9"/><rect x="296.8" y="439.2" width="3.8" height="8.3"/><rect x="303.8" y="422.0" width="3.8" height="25.5"/><rect x="310.1" y="427.4" width="3.8" height="20.1"/><rect x="316.4" y="429.2" width="3.8" height="18.3"/><rect x="323.5" y="392.5" width="3.8" height="55.0"/><rect x="326.2" y="404.2" width="3.8" height="43.3"/><rect x="346.6" y="371.2" width="3.8" height="76.3"/><rect x="360.8" y="406.6" width="3.8" height="40.9"/><rect x="369.1" y="419.6" width="3.8" height="27.9"/><rect x="374.9" y="387.7" width="3.8" height="59.8"/><rect x="395.0" y="355.9" width="3.8" height="91.6"/><rect x="399.2" y="385.4" width="3.8" height="62.1"/><rect x="405.2" y="396.0" width="3.8" height="51.5"/><rect x="412.3" y="407.8" width="3.8" height="39.7"/><rect x="424.1" y="430.2" width="3.8" height="17.3"/><rect x="428.3" y="388.9" width="3.8" height="58.6"/><rect x="433.5" y="407.8" width="3.8" height="39.7"/><rect x="446.4" y="391.3" width="3.8" height="56.2"/><rect x="456.1" y="372.8" width="3.8" height="74.7"/><rect x="464.4" y="370.0" width="3.8" height="77.5"/><rect x="474.3" y="396.0" width="3.8" height="51.5"/><rect x="483.8" y="386.6" width="3.8" height="60.9"/><rect x="496.7" y="409.0" width="3.8" height="38.5"/><rect x="512.1" y="410.1" width="3.8" height="37.4"/><rect x="515.2" y="398.3" width="3.8" height="49.2"/><rect x="522.3" y="406.6" width="3.8" height="40.9"/><rect x="532.9" y="406.6" width="3.8" height="40.9"/><rect x="539.9" y="379.5" width="3.8" height="68.0"/><rect x="552.9" y="411.3" width="3.8" height="36.2"/><rect x="560.0" y="370.0" width="3.8" height="77.5"/><rect x="566.9" y="384.2" width="3.8" height="63.3"/><rect x="573.7" y="411.3" width="3.8" height="36.2"/><rect x="582.0" y="374.8" width="3.8" height="72.7"/><rect x="586.7" y="380.7" width="3.8" height="66.8"/><rect x="591.4" y="416.0" width="3.8" height="31.5"/><rect x="609.1" y="393.6" width="3.8" height="53.9"/><rect x="613.8" y="406.6" width="3.8" height="40.9"/><rect x="617.6" y="300.0" width="3.8" height="147.5"/><rect x="620.1" y="200.3" width="3.8" height="247.2"/><rect x="637.4" y="412.7" width="3.8" height="34.8"/><rect x="646.1" y="421.5" width="3.8" height="26.0"/><rect x="649.1" y="384.9" width="3.8" height="62.6"/><rect x="655.4" y="343.5" width="3.8" height="104.0"/><rect x="663.1" y="370.0" width="3.8" height="77.5"/><rect x="667.4" y="347.0" width="3.8" height="100.5"/><rect x="671.7" y="136.7" width="3.8" height="310.8"/><rect x="77.9" y="447.5" width="3.8" height="10.0"/><rect x="88.1" y="447.5" width="3.8" height="8.3"/><rect x="116.6" y="447.5" width="3.8" height="9.0"/><rect x="124.9" y="447.5" width="3.8" height="11.2"/><rect x="133.0" y="447.5" width="3.8" height="4.3"/><rect x="140.3" y="447.5" width="3.8" height="11.6"/><rect x="150.1" y="447.5" width="3.8" height="8.7"/><rect x="155.9" y="447.5" width="3.8" height="12.1"/><rect x="162.7" y="447.5" width="3.8" height="9.2"/><rect x="195.8" y="447.5" width="3.8" height="2.7"/><rect x="223.2" y="447.5" width="3.8" height="4.2"/><rect x="232.2" y="447.5" width="3.8" height="7.4"/><rect x="242.2" y="447.5" width="3.8" height="13.7"/><rect x="245.6" y="447.5" width="3.8" height="14.5"/><rect x="248.9" y="447.5" width="3.8" height="13.3"/><rect x="255.2" y="447.5" width="3.8" height="6.5"/><rect x="262.0" y="447.5" width="3.8" height="19.6"/><rect x="275.7" y="447.5" width="3.8" height="11.0"/><rect x="283.1" y="447.5" width="3.8" height="16.7"/><rect x="294.1" y="447.5" width="3.8" height="7.5"/><rect x="314.6" y="447.5" width="3.8" height="16.5"/><rect x="330.7" y="447.5" width="3.8" height="18.4"/><rect x="336.6" y="447.5" width="3.8" height="37.2"/><rect x="339.6" y="447.5" width="3.8" height="38.0"/><rect x="343.1" y="447.5" width="3.8" height="37.0"/><rect x="346.1" y="447.5" width="3.8" height="31.0"/><rect x="351.4" y="447.5" width="3.8" height="22.8"/><rect x="385.6" y="447.5" width="3.8" height="41.7"/><rect x="402.4" y="447.5" width="3.8" height="25.1"/><rect x="408.7" y="447.5" width="3.8" height="13.3"/><rect x="415.8" y="447.5" width="3.8" height="18.1"/><rect x="420.5" y="447.5" width="3.8" height="27.5"/><rect x="428.8" y="447.5" width="3.8" height="25.1"/><rect x="444.1" y="447.5" width="3.8" height="11.0"/><rect x="451.1" y="447.5" width="3.8" height="25.1"/><rect x="453.6" y="447.5" width="3.8" height="15.7"/><rect x="476.2" y="447.5" width="3.8" height="42.8"/><rect x="486.1" y="447.5" width="3.8" height="27.5"/><rect x="490.8" y="447.5" width="3.8" height="15.7"/><rect x="505.0" y="447.5" width="3.8" height="18.1"/><rect x="508.6" y="447.5" width="3.8" height="18.1"/><rect x="524.6" y="447.5" width="3.8" height="3.9"/><rect x="530.5" y="447.5" width="3.8" height="6.3"/><rect x="538.8" y="447.5" width="3.8" height="15.7"/><rect x="543.5" y="447.5" width="3.8" height="39.3"/><rect x="556.4" y="447.5" width="3.8" height="6.3"/><rect x="572.5" y="447.5" width="3.8" height="20.4"/><rect x="589.3" y="447.5" width="3.8" height="18.5"/><rect x="595.4" y="447.5" width="3.8" height="30.7"/><rect x="600.8" y="447.5" width="3.8" height="11.0"/><rect x="625.7" y="447.5" width="3.8" height="19.3"/><rect x="633.0" y="447.5" width="3.8" height="16.4"/><rect x="640.3" y="447.5" width="3.8" height="32.5"/><rect x="673.7" y="447.5" width="3.8" height="51.3"/><path d="M77.50,451.00 C78.33,451.33 79.17,452.00 80.00,452.00 C81.00,452.00 82.00,450.50 83.00,450.50 C84.67,450.50 86.33,451.30 88.00,451.50 C90.00,451.74 92.00,452.00 94.00,452.00 C95.33,452.00 96.67,450.90 98.00,450.00 C99.00,449.32 100.00,447.00 101.00,447.00 C102.67,447.00 104.33,447.57 106.00,447.80 C108.00,448.07 110.00,448.31 112.00,448.50 C114.00,448.69 116.00,449.00 118.00,449.00 C120.00,449.00 122.00,448.78 124.00,448.50 C126.00,448.22 128.00,446.93 130.00,446.00 C131.30,445.40 132.60,444.00 133.90,444.00 C135.20,444.00 136.50,444.00 137.80,444.00 C139.43,444.00 141.07,448.00 142.70,448.00 C144.33,448.00 145.97,444.70 147.60,444.00 C149.20,443.31 150.80,442.60 152.40,442.60 C154.03,442.60 155.67,446.00 157.30,446.00 C159.27,446.00 161.23,435.20 163.20,435.20 C164.50,435.20 165.80,436.11 167.10,437.20 C168.07,438.01 169.03,443.00 170.00,443.00 C171.30,443.00 172.60,440.10 173.90,440.10 C174.87,440.10 175.83,443.00 176.80,443.00 C178.10,443.00 179.40,437.20 180.70,437.20 C182.00,437.20 183.30,438.20 184.60,438.20 C185.80,438.20 187.00,438.00 188.20,438.00 C189.93,438.00 191.67,439.10 193.40,440.10 C195.17,441.12 196.93,445.40 198.70,445.40 C199.77,445.40 200.83,445.40 201.90,445.40 C203.30,445.40 204.70,440.51 206.10,440.10 C208.23,439.47 210.37,439.10 212.50,439.10 C213.53,439.10 214.57,440.70 215.60,440.70 C217.37,440.70 219.13,417.40 220.90,417.40 C221.97,417.40 223.03,422.34 224.10,426.40 C224.97,429.70 225.83,441.20 226.70,441.20 C227.93,441.20 229.17,434.80 230.40,434.80 C231.47,434.80 232.53,438.01 233.60,440.10 C234.63,442.12 235.67,447.50 236.70,447.50 C238.13,447.50 239.57,445.40 241.00,445.40 C242.17,445.40 243.33,450.32 244.50,451.50 C245.67,452.68 246.83,454.00 248.00,454.00 C249.50,454.00 251.00,451.84 252.50,450.60 C254.40,449.04 256.30,445.40 258.20,445.40 C259.73,445.40 261.27,447.96 262.80,449.40 C264.30,450.81 265.80,454.00 267.30,454.00 C268.83,454.00 270.37,444.90 271.90,444.90 C273.40,444.90 274.90,447.83 276.40,449.40 C278.30,451.39 280.20,455.70 282.10,455.70 C283.27,455.70 284.43,454.03 285.60,452.80 C287.10,451.21 288.60,446.00 290.10,446.00 C291.63,446.00 293.17,451.00 294.70,451.00 C296.60,451.00 298.50,450.53 300.40,449.80 C302.17,449.12 303.93,442.41 305.70,439.90 C307.50,437.34 309.30,433.70 311.10,433.70 C312.90,433.70 314.70,437.01 316.50,439.00 C318.33,441.03 320.17,446.00 322.00,446.00 C322.83,446.00 323.67,445.26 324.50,444.40 C326.30,442.54 328.10,418.50 329.90,418.50 C331.10,418.50 332.30,430.98 333.50,437.20 C335.00,444.98 336.50,456.64 338.00,460.50 C339.77,465.04 341.53,465.87 343.30,469.40 C344.37,471.53 345.43,477.00 346.50,477.00 C347.83,477.00 349.17,457.63 350.50,450.00 C351.67,443.32 352.83,432.50 354.00,432.50 C355.17,432.50 356.33,452.00 357.50,452.00 C358.83,452.00 360.17,442.47 361.50,439.60 C363.47,435.37 365.43,430.20 367.40,430.20 C369.37,430.20 371.33,431.40 373.30,431.40 C375.67,431.40 378.03,416.00 380.40,416.00 C383.13,416.00 385.87,453.80 388.60,453.80 C390.57,453.80 392.53,438.81 394.50,430.20 C396.30,422.32 398.10,404.20 399.90,404.20 C401.50,404.20 403.10,416.75 404.70,425.50 C405.63,430.60 406.57,444.50 407.50,444.50 C409.73,444.50 411.97,437.30 414.20,437.30 C415.77,437.30 417.33,439.56 418.90,442.00 C420.47,444.44 422.03,458.50 423.60,458.50 C425.57,458.50 427.53,430.20 429.50,430.20 C431.07,430.20 432.63,432.50 434.20,432.50 C436.17,432.50 438.13,412.50 440.10,412.50 C442.47,412.50 444.83,437.30 447.20,437.30 C449.17,437.30 451.13,418.40 453.10,418.40 C454.27,418.40 455.43,436.00 456.60,436.00 C457.63,436.00 458.67,415.09 459.70,411.30 C461.67,404.09 463.63,398.30 465.60,398.30 C467.17,398.30 468.73,407.67 470.30,413.70 C471.50,418.32 472.70,430.20 473.90,430.20 C475.47,430.20 477.03,425.50 478.60,425.50 C480.17,425.50 481.73,444.30 483.30,444.30 C484.87,444.30 486.43,416.00 488.00,416.00 C489.57,416.00 491.13,451.40 492.70,451.40 C494.67,451.40 496.63,431.45 498.60,430.20 C500.97,428.70 503.33,427.80 505.70,427.80 C507.47,427.80 509.23,441.00 511.00,441.00 C512.00,441.00 513.00,424.74 514.00,423.10 C515.80,420.16 517.60,418.40 519.40,418.40 C521.00,418.40 522.60,422.97 524.20,425.50 C526.93,429.82 529.67,439.60 532.40,439.60 C534.37,439.60 536.33,433.79 538.30,430.20 C540.50,426.18 542.70,416.00 544.90,416.00 C546.63,416.00 548.37,458.50 550.10,458.50 C551.67,458.50 553.23,430.20 554.80,430.20 C556.37,430.20 557.93,439.60 559.50,439.60 C561.70,439.60 563.90,404.70 566.10,404.70 C567.17,404.70 568.23,415.11 569.30,417.20 C570.20,418.96 571.10,419.20 572.00,420.80 C574.10,424.53 576.20,440.50 578.30,440.50 C579.77,440.50 581.23,414.11 582.70,406.50 C584.07,399.41 585.43,390.40 586.80,390.40 C587.83,390.40 588.87,394.05 589.90,397.60 C591.10,401.73 592.30,416.08 593.50,422.60 C594.93,430.39 596.37,436.17 597.80,441.60 C599.10,446.53 600.40,454.60 601.70,454.60 C603.00,454.60 604.30,454.10 605.60,453.30 C606.70,452.62 607.80,448.04 608.90,443.00 C609.97,438.11 611.03,418.12 612.10,415.60 C613.40,412.53 614.70,410.40 616.00,410.40 C616.67,410.40 617.33,416.00 618.00,416.00 C618.83,416.00 619.67,398.47 620.50,385.00 C621.10,375.30 621.70,356.38 622.30,345.00 C622.80,335.52 623.30,320.00 623.80,320.00 C624.30,320.00 624.80,323.97 625.30,328.00 C626.03,333.90 626.77,356.40 627.50,370.00 C628.33,385.45 629.17,404.85 630.00,415.00 C630.83,425.15 631.67,433.14 632.50,438.00 C633.77,445.39 635.03,453.60 636.30,453.60 C637.30,453.60 638.30,449.30 639.30,449.30 C640.27,449.30 641.23,453.15 642.20,455.10 C643.17,457.05 644.13,461.00 645.10,461.00 C647.07,461.00 649.03,431.88 651.00,422.90 C652.93,414.07 654.87,413.30 656.80,402.40 C657.40,399.02 658.00,385.00 658.60,385.00 C659.40,385.00 660.20,386.63 661.00,388.00 C663.53,392.33 666.07,415.00 668.60,415.00 C669.07,415.00 669.53,415.00 670.00,415.00 C671.20,415.00 672.40,256.00 673.60,256.00 C674.57,256.00 675.53,264.00 676.50,268.00" fill="none" stroke="#3a98d8" stroke-width="4.5" stroke-linejoin="round"/></g>
<line x1="77" y1="447.7" x2="766.5" y2="447.7" stroke="#3c3c3c" stroke-width="1.4"/>
<path id="ma" fill="none" stroke="#0f2565" stroke-width="3.4" stroke-linejoin="round" stroke-linecap="round" d="M77.50,451.00 C78.33,451.33 79.17,452.00 80.00,452.00 C81.00,452.00 82.00,450.50 83.00,450.50 C84.67,450.50 86.33,451.30 88.00,451.50 C90.00,451.74 92.00,452.00 94.00,452.00 C95.33,452.00 96.67,450.90 98.00,450.00 C99.00,449.32 100.00,447.00 101.00,447.00 C102.67,447.00 104.33,447.57 106.00,447.80 C108.00,448.07 110.00,448.31 112.00,448.50 C114.00,448.69 116.00,449.00 118.00,449.00 C120.00,449.00 122.00,448.78 124.00,448.50 C126.00,448.22 128.00,446.93 130.00,446.00 C131.30,445.40 132.60,444.00 133.90,444.00 C135.20,444.00 136.50,444.00 137.80,444.00 C139.43,444.00 141.07,448.00 142.70,448.00 C144.33,448.00 145.97,444.70 147.60,444.00 C149.20,443.31 150.80,442.60 152.40,442.60 C154.03,442.60 155.67,446.00 157.30,446.00 C159.27,446.00 161.23,435.20 163.20,435.20 C164.50,435.20 165.80,436.11 167.10,437.20 C168.07,438.01 169.03,443.00 170.00,443.00 C171.30,443.00 172.60,440.10 173.90,440.10 C174.87,440.10 175.83,443.00 176.80,443.00 C178.10,443.00 179.40,437.20 180.70,437.20 C182.00,437.20 183.30,438.20 184.60,438.20 C185.80,438.20 187.00,438.00 188.20,438.00 C189.93,438.00 191.67,439.10 193.40,440.10 C195.17,441.12 196.93,445.40 198.70,445.40 C199.77,445.40 200.83,445.40 201.90,445.40 C203.30,445.40 204.70,440.51 206.10,440.10 C208.23,439.47 210.37,439.10 212.50,439.10 C213.53,439.10 214.57,440.70 215.60,440.70 C217.37,440.70 219.13,417.40 220.90,417.40 C221.97,417.40 223.03,422.34 224.10,426.40 C224.97,429.70 225.83,441.20 226.70,441.20 C227.93,441.20 229.17,434.80 230.40,434.80 C231.47,434.80 232.53,438.01 233.60,440.10 C234.63,442.12 235.67,447.50 236.70,447.50 C238.13,447.50 239.57,445.40 241.00,445.40 C242.17,445.40 243.33,450.32 244.50,451.50 C245.67,452.68 246.83,454.00 248.00,454.00 C249.50,454.00 251.00,451.84 252.50,450.60 C254.40,449.04 256.30,445.40 258.20,445.40 C259.73,445.40 261.27,447.96 262.80,449.40 C264.30,450.81 265.80,454.00 267.30,454.00 C268.83,454.00 270.37,444.90 271.90,444.90 C273.40,444.90 274.90,447.83 276.40,449.40 C278.30,451.39 280.20,455.70 282.10,455.70 C283.27,455.70 284.43,454.03 285.60,452.80 C287.10,451.21 288.60,446.00 290.10,446.00 C291.63,446.00 293.17,451.00 294.70,451.00 C296.60,451.00 298.50,450.53 300.40,449.80 C302.17,449.12 303.93,442.41 305.70,439.90 C307.50,437.34 309.30,433.70 311.10,433.70 C312.90,433.70 314.70,437.01 316.50,439.00 C318.33,441.03 320.17,446.00 322.00,446.00 C322.83,446.00 323.67,445.26 324.50,444.40 C326.30,442.54 328.10,418.50 329.90,418.50 C331.10,418.50 332.30,430.98 333.50,437.20 C335.00,444.98 336.50,456.64 338.00,460.50 C339.77,465.04 341.53,465.87 343.30,469.40 C344.37,471.53 345.43,477.00 346.50,477.00 C347.83,477.00 349.17,457.63 350.50,450.00 C351.67,443.32 352.83,432.50 354.00,432.50 C355.17,432.50 356.33,452.00 357.50,452.00 C358.83,452.00 360.17,442.47 361.50,439.60 C363.47,435.37 365.43,430.20 367.40,430.20 C369.37,430.20 371.33,431.40 373.30,431.40 C375.67,431.40 378.03,416.00 380.40,416.00 C383.13,416.00 385.87,453.80 388.60,453.80 C390.57,453.80 392.53,438.81 394.50,430.20 C396.30,422.32 398.10,404.20 399.90,404.20 C401.50,404.20 403.10,416.75 404.70,425.50 C405.63,430.60 406.57,444.50 407.50,444.50 C409.73,444.50 411.97,437.30 414.20,437.30 C415.77,437.30 417.33,439.56 418.90,442.00 C420.47,444.44 422.03,458.50 423.60,458.50 C425.57,458.50 427.53,430.20 429.50,430.20 C431.07,430.20 432.63,432.50 434.20,432.50 C436.17,432.50 438.13,412.50 440.10,412.50 C442.47,412.50 444.83,437.30 447.20,437.30 C449.17,437.30 451.13,418.40 453.10,418.40 C454.27,418.40 455.43,436.00 456.60,436.00 C457.63,436.00 458.67,415.09 459.70,411.30 C461.67,404.09 463.63,398.30 465.60,398.30 C467.17,398.30 468.73,407.67 470.30,413.70 C471.50,418.32 472.70,430.20 473.90,430.20 C475.47,430.20 477.03,425.50 478.60,425.50 C480.17,425.50 481.73,444.30 483.30,444.30 C484.87,444.30 486.43,416.00 488.00,416.00 C489.57,416.00 491.13,451.40 492.70,451.40 C494.67,451.40 496.63,431.45 498.60,430.20 C500.97,428.70 503.33,427.80 505.70,427.80 C507.47,427.80 509.23,441.00 511.00,441.00 C512.00,441.00 513.00,424.74 514.00,423.10 C515.80,420.16 517.60,418.40 519.40,418.40 C521.00,418.40 522.60,422.97 524.20,425.50 C526.93,429.82 529.67,439.60 532.40,439.60 C534.37,439.60 536.33,433.79 538.30,430.20 C540.50,426.18 542.70,416.00 544.90,416.00 C546.63,416.00 548.37,458.50 550.10,458.50 C551.67,458.50 553.23,430.20 554.80,430.20 C556.37,430.20 557.93,439.60 559.50,439.60 C561.70,439.60 563.90,404.70 566.10,404.70 C567.17,404.70 568.23,415.11 569.30,417.20 C570.20,418.96 571.10,419.20 572.00,420.80 C574.10,424.53 576.20,440.50 578.30,440.50 C579.77,440.50 581.23,414.11 582.70,406.50 C584.07,399.41 585.43,390.40 586.80,390.40 C587.83,390.40 588.87,394.05 589.90,397.60 C591.10,401.73 592.30,416.08 593.50,422.60 C594.93,430.39 596.37,436.17 597.80,441.60 C599.10,446.53 600.40,454.60 601.70,454.60 C603.00,454.60 604.30,454.10 605.60,453.30 C606.70,452.62 607.80,448.04 608.90,443.00 C609.97,438.11 611.03,418.12 612.10,415.60 C613.40,412.53 614.70,410.40 616.00,410.40 C616.67,410.40 617.33,416.00 618.00,416.00 C618.83,416.00 619.67,398.47 620.50,385.00 C621.10,375.30 621.70,356.38 622.30,345.00 C622.80,335.52 623.30,320.00 623.80,320.00 C624.30,320.00 624.80,323.97 625.30,328.00 C626.03,333.90 626.77,356.40 627.50,370.00 C628.33,385.45 629.17,404.85 630.00,415.00 C630.83,425.15 631.67,433.14 632.50,438.00 C633.77,445.39 635.03,453.60 636.30,453.60 C637.30,453.60 638.30,449.30 639.30,449.30 C640.27,449.30 641.23,453.15 642.20,455.10 C643.17,457.05 644.13,461.00 645.10,461.00 C647.07,461.00 649.03,431.88 651.00,422.90 C652.93,414.07 654.87,413.30 656.80,402.40 C657.40,399.02 658.00,385.00 658.60,385.00 C659.40,385.00 660.20,386.63 661.00,388.00 C663.53,392.33 666.07,415.00 668.60,415.00 C669.07,415.00 669.53,415.00 670.00,415.00 C671.20,415.00 672.40,256.00 673.60,256.00 C674.57,256.00 675.53,264.00 676.50,268.00"/>
</svg>
<div class="t lg" style="left:164px;top:104.7px">China equities flows ($bn)</div>
<div class="t lg" style="left:427.5px;top:104.7px">China equities flows 4-week MA ($bn)</div>
<div class="t yl" style="left:22.5px;top:126.5px">25</div>
<div class="t yl" style="left:22.5px;top:188.3px">20</div>
<div class="t yl" style="left:22.5px;top:250.1px">15</div>
<div class="t yl" style="left:22.5px;top:311.9px">10</div>
<div class="t yl" style="left:22.5px;top:373.7px">5</div>
<div class="t yl" style="left:22.5px;top:435.5px">0</div>
<div class="t yl" style="left:22.5px;top:497.3px">-5</div>
<div class="t xl" style="left:66px;top:520.5px">’17</div>
<div class="t xl" style="left:143px;top:520.5px">’18</div>
<div class="t xl" style="left:220px;top:520.5px">’19</div>
<div class="t xl" style="left:297px;top:520.5px">’20</div>
<div class="t xl" style="left:373px;top:520.5px">’21</div>
<div class="t xl" style="left:450px;top:520.5px">’22</div>
<div class="t xl" style="left:527px;top:520.5px">’23</div>
<div class="t xl" style="left:603px;top:520.5px">’24</div>
<div class="t xl" style="left:680px;top:520.5px">’25</div>
<div class="t" id="src" style="left:39px;top:561.8px;font-size:19px;color:#444;transform:scaleX(0.85)"><b style="color:#111">Source:</b> BofA Global Investment Strategy, EPFR</div>
<div class="t" id="gr" style="left:583px;top:588.5px;font-size:18px;color:#666;transform:scaleX(0.83)">BofA GLOBAL RESEARCH</div>
</body></html>
